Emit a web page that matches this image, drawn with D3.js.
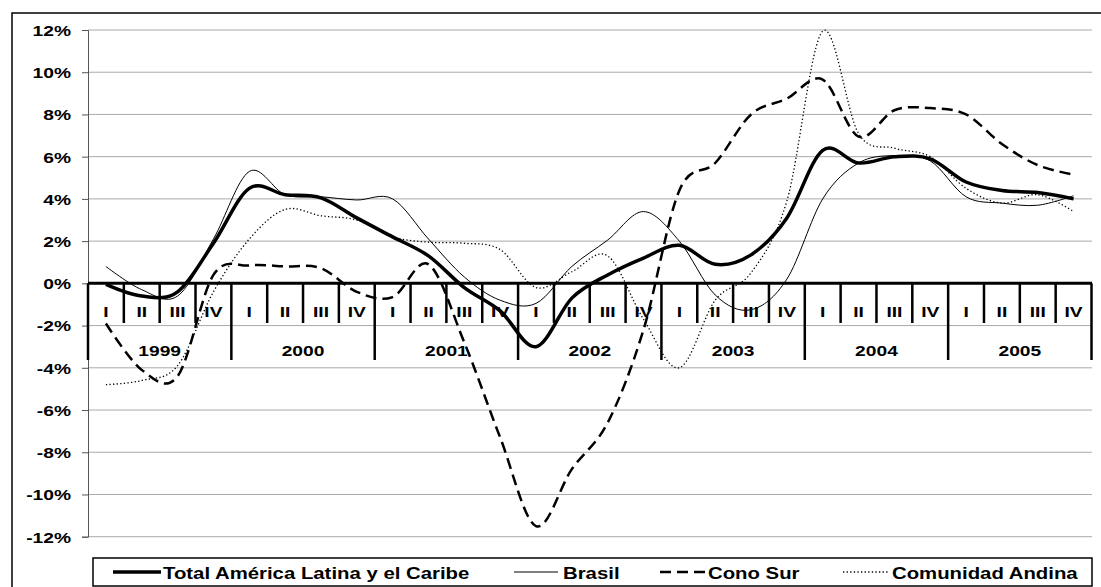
<!DOCTYPE html>
<html>
<head>
<meta charset="utf-8">
<script src="https://cdn.jsdelivr.net/npm/d3@7"></script>
<style>
  body { margin: 0; background: #fff; }
  svg { display: block; font-family: "Liberation Sans", Arial, sans-serif; font-weight: bold; }
</style>
</head>
<body>
<div id="chart"></div>
<script>
var width = 1101
var height = 587

// data (% variation)
var years = ["1999", "2000", "2001", "2002", "2003", "2004", "2005"]
var quarters = ["I", "II", "III", "IV"]
var yTicks = [-12, -10, -8, -6, -4, -2, 0, 2, 4, 6, 8, 10, 12]

var total   = [-0.05, -0.6, -0.4, 1.9, 4.5, 4.2, 4.05, 3.1, 2.2, 1.3, -0.2, -1.3, -3.0, -0.7, 0.4, 1.2, 1.8, 0.9, 1.35, 3.1, 6.3, 5.7, 6.0, 5.9, 4.8, 4.4, 4.3, 4.0]
var brasil  = [0.8, -0.3, -0.6, 2.1, 5.3, 4.2, 4.1, 3.95, 4.0, 2.1, 0.3, -0.8, -0.95, 0.8, 2.05, 3.4, 2.0, -0.55, -1.25, 0.2, 4.0, 5.7, 6.05, 5.8, 4.1, 3.8, 3.7, 4.15]
var conoSur = [-1.9, -4.1, -4.4, 0.4, 0.85, 0.8, 0.72, -0.4, -0.65, 0.9, -2.8, -7.3, -11.5, -8.8, -6.6, -2.2, 4.4, 5.7, 8.0, 8.75, 9.65, 6.95, 8.2, 8.3, 8.0, 6.6, 5.6, 5.15]
var andina  = [-4.8, -4.6, -3.9, -0.4, 2.1, 3.5, 3.2, 3.0, 2.2, 1.95, 1.9, 1.6, -0.2, 0.55, 1.3, -1.7, -4.0, -0.8, 0.5, 3.9, 11.95, 7.1, 6.4, 6.0, 4.5, 3.8, 4.2, 3.4]

var seriesNames = ["Total América Latina y el Caribe", "Brasil", "Cono Sur", "Comunidad Andina"]

var periods = []
years.forEach(function(yr) {
  quarters.forEach(function(q) { periods.push(yr + "-" + q) })
})

var series = [
  {name: seriesNames[0], values: total,   width: 3.5, dash: null},
  {name: seriesNames[1], values: brasil,  width: 1,   dash: null},
  {name: seriesNames[2], values: conoSur, width: 2.5, dash: "11,6"},
  {name: seriesNames[3], values: andina,  width: 1.3, dash: "1.3,2.3"}
]

var stretch = 1.28

var x = d3.scaleBand().domain(periods).range([88, 1091.5]).padding(0)
var y = d3.scaleLinear().domain([-12, 12]).range([536.7, 30])
var bw = x.bandwidth()

var svg = d3.select("#chart").append("svg").attr("width", width).attr("height", height)

// outer frame
svg.append("rect")
  .attr("x", 12).attr("y", 13).attr("width", 1100).attr("height", 590)
  .attr("fill", "none").attr("stroke", "#000").attr("stroke-width", 1.5)

// gridlines
svg.append("g").selectAll("line")
  .data(yTicks.filter(function(d) { return d != 0 }))
  .enter().append("line")
  .attr("x1", 88).attr("x2", 1092)
  .attr("y1", function(d) { return y(d) }).attr("y2", function(d) { return y(d) })
  .attr("stroke", "#aaa").attr("stroke-width", 1)

// y axis
var lAxis = d3.axisLeft(y).tickValues(yTicks).tickSize(6).tickFormat(function(d) { return d + "%" })
var gy = svg.append("g").attr("transform", "translate(88,0)").call(lAxis)
gy.select(".domain").attr("stroke", "#555").attr("stroke-width", 1)
gy.selectAll(".tick line").attr("stroke", "#555")
gy.selectAll("text")
  .attr("x", 0).attr("dy", "0.36em")
  .attr("transform", "translate(-17,0) scale(" + stretch + ",1)")
  .attr("fill", "#000")
  .style("font-size", "15px").style("font-weight", "bold")
  .style("font-family", "'Liberation Sans', Arial, sans-serif")

// x axis at 0
svg.append("line")
  .attr("x1", 88).attr("x2", 1092)
  .attr("y1", y(0)).attr("y2", y(0))
  .attr("stroke", "#000").attr("stroke-width", 3)

var dividers = d3.range(periods.length + 1)
svg.append("g").selectAll("line")
  .data(dividers)
  .enter().append("line")
  .attr("x1", function(k) { return 88 + k * bw }).attr("x2", function(k) { return 88 + k * bw })
  .attr("y1", y(0))
  .attr("y2", function(k) { return k % 4 == 0 ? 360 : 323 })
  .attr("stroke", "#000").attr("stroke-width", 2.5)

function stretchedText(g, tx, ty, txt, size, anchor) {
  return g.append("text")
    .attr("transform", "translate(" + tx + "," + ty + ") scale(" + stretch + ",1)")
    .attr("text-anchor", anchor || "middle")
    .style("font-size", size + "px")
    .text(txt)
}

var gq = svg.append("g")
periods.forEach(function(p) {
  stretchedText(gq, x(p) + bw / 2, 317, p.split("-")[1], 15)
})
years.forEach(function(yr) {
  stretchedText(gq, x(yr + "-I") + bw * 2, 356, yr, 15)
})

// lines
var line = d3.line()
  .x(function(d, i) { return x(periods[i]) + bw / 2 })
  .y(function(d) { return y(d) })
  .curve(d3.curveCatmullRom.alpha(0))

svg.append("g").selectAll("path")
  .data(series)
  .enter().append("path")
  .attr("d", function(s) { return line(s.values) })
  .attr("fill", "none")
  .attr("stroke", "#000")
  .attr("stroke-width", function(s) { return s.width })
  .attr("stroke-dasharray", function(s) { return s.dash })

// legend
svg.append("rect")
  .attr("x", 93).attr("y", 558).attr("width", 999).attr("height", 28)
  .attr("fill", "#fff").attr("stroke", "#000").attr("stroke-width", 1.5)

var legendPos = [
  {x1: 113, x2: 161, tx: 163},
  {x1: 514, x2: 558, tx: 563},
  {x1: 660, x2: 705, tx: 708},
  {x1: 843, x2: 889, tx: 892}
]
var gl = svg.append("g")
series.forEach(function(s, i) {
  var p = legendPos[i]
  gl.append("line")
    .attr("x1", p.x1).attr("x2", p.x2).attr("y1", 572).attr("y2", 572)
    .attr("stroke", "#000").attr("stroke-width", s.width)
    .attr("stroke-dasharray", s.dash)
  stretchedText(gl, p.tx, 579, s.name, 15.9, "start")
})
</script>
</body>
</html>
